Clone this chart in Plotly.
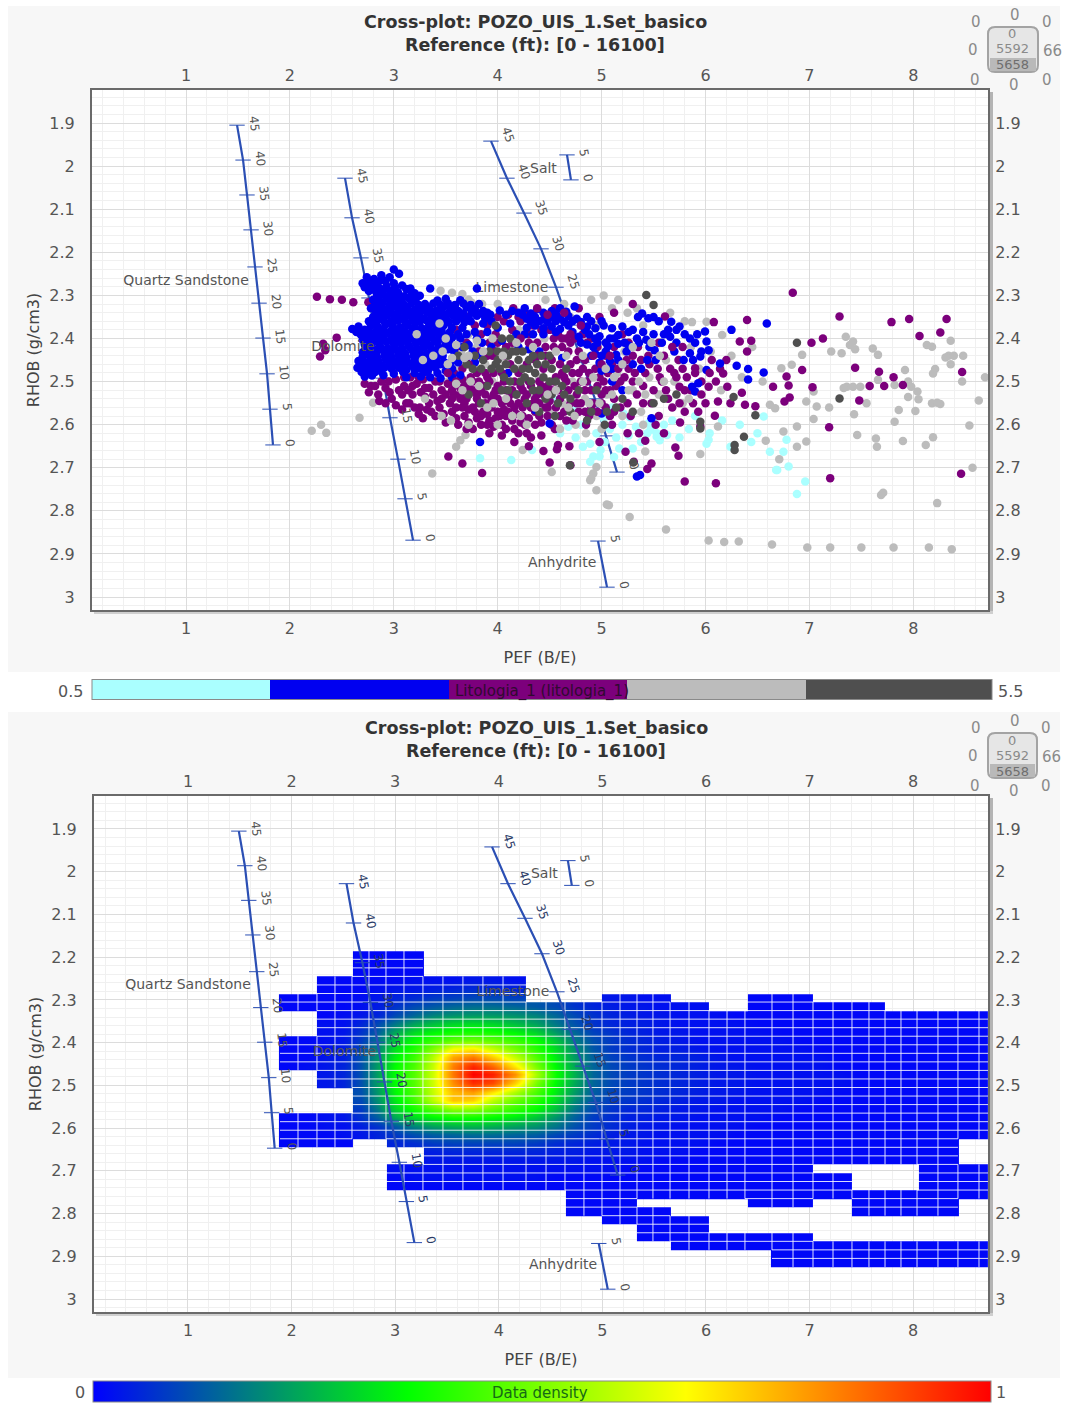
import plotly.graph_objects as go

W, H = 1065, 1404

# ---------- lithology scatter (PEF, RHOB) ----------
cyan_pts = [(6.69,2.705),(6.8,2.697),(6.96,2.732),(6.88,2.761),(6.62,2.663),(6.75,2.663),(6.78,2.635),(6.04,2.62),(6.03,2.635),(6.33,2.6),
(6.56,2.581),(5.47,2.612),(5.53,2.628),(5.45,2.597),(3.83,2.678),(4.13,2.682),(4.33,2.659),(4.92,2.674),(4.89,2.644),(4.99,2.659),
(5.21,2.574),(5.27,2.582),(4.57,2.543),(4.89,2.686),(4.98,2.674),(4.82,2.651),(5.53,2.62),(5.56,2.636),(5.63,2.624),(6.01,2.644),
(6.24,2.651),(6.68,2.705),(5.08,2.61),(5.14,2.63),(5.2,2.6),(5.26,2.625),(5.33,2.605),(5.38,2.64),(5.44,2.62),(5.5,2.59),
(5.02,2.585),(5.1,2.56),(5.17,2.655),(5.3,2.655),(5.6,2.6),(5.68,2.59),(5.75,2.63),(5.84,2.61),(5.9,2.58),(6.16,2.59),
(4.75,2.63),(4.68,2.605),(4.6,2.62),(4.8,2.6),(4.95,2.62),(5.03,2.64),(5.12,2.675),(4.72,2.56),(6.44,2.64),(6.5,2.62)]

gray_pts = [(5.62,2.843),(6.03,2.869),(6.18,2.872),(6.32,2.871),(6.64,2.878),(6.98,2.885),(7.2,2.885),(7.5,2.885),(7.81,2.885),(8.15,2.885),
(8.37,2.889),(7.69,2.763),(7.71,2.758),(8.23,2.782),(8.57,2.70),(7.35,2.396),(7.42,2.407),(7.39,2.415),(7.44,2.425),(7.61,2.423),
(7.66,2.438),(8.13,2.415),(8.18,2.419),(8.36,2.405),(8.34,2.44),(8.39,2.44),(8.31,2.444),(8.48,2.44),(8.36,2.46),(8.21,2.471),
(8.19,2.481),(7.92,2.473),(8.47,2.50),(8.69,2.49),(7.36,2.512),(7.33,2.515),(7.42,2.512),(7.49,2.512),(7.66,2.496),(7.82,2.508),
(7.95,2.50),(7.98,2.512),(8.04,2.523),(7.95,2.536),(8.05,2.541),(8.18,2.55),(8.23,2.549),(8.26,2.552),(8.63,2.544),(7.55,2.55),
(7.86,2.566),(8.02,2.568),(7.82,2.593),(7.43,2.576),(7.07,2.558),(7.19,2.56),(7.04,2.587),(7.46,2.624),(7.64,2.632),(7.65,2.651),
(7.9,2.638),(8.12,2.647),(8.19,2.629),(8.54,2.602),(6.97,2.639),(6.88,2.651),(6.75,2.616),(6.58,2.637),(6.71,2.68),(6.88,2.604),
(6.97,2.546),(7.04,2.523),(6.62,2.554),(6.67,2.562),(6.73,2.469),(6.83,2.461),(6.93,2.438),(7.21,2.43),(7.31,2.434),(5.95,2.668),
(6.12,2.604),(6.16,2.392),(5.87,2.362),(6.01,2.361),(5.42,2.662),(2.21,2.614),(2.30,2.60),(2.35,2.619),(2.67,2.584),(2.80,2.549),
(3.45,2.289),(3.56,2.294),(3.66,2.297),(3.75,2.317),(3.37,2.713),(3.64,2.636),(3.6,2.651),(3.69,2.624),(4.24,2.659),(4.52,2.71),
(4.95,2.752),(5.07,2.787),(4.92,2.713),(4.89,2.729),(5.05,2.785),(5.27,2.814),(4.95,2.698),(4.9,2.725),(3.55,2.40),(3.65,2.43),
(3.72,2.39),(3.8,2.42),(3.88,2.46),(3.6,2.47),(3.7,2.5),(3.78,2.47),(3.95,2.5),(4.05,2.45),(4.12,2.42),(4.22,2.47),
(4.3,2.53),(4.4,2.49),(4.5,2.57),(4.62,2.55),(4.72,2.5),(4.84,2.54),(4.95,2.58),(5.05,2.53),(5.15,2.48),(5.22,2.43),
(5.3,2.52),(5.38,2.57),(5.46,2.49),(5.55,2.53),(5.62,2.45),(5.7,2.5),(5.78,2.55),(5.86,2.42),(5.94,2.47),(6.05,2.43),
(6.15,2.52),(6.25,2.44),(6.35,2.49),(6.45,2.42),(6.55,2.5),(3.36,2.37),(3.44,2.44),(3.52,2.5),(4.2,2.38),(4.45,2.4),
(4.7,2.35),(4.95,2.37),(5.1,2.33),(5.25,2.34),(5.4,2.37),(4.75,2.6),(4.85,2.62),(5.0,2.61),(5.2,2.58),(5.4,2.6),
(3.72,2.31),(3.85,2.32),(4.0,2.32),(4.46,2.31),(4.64,2.32),(4.9,2.31),(5.02,2.30),(5.16,2.31),(5.34,2.33),(5.66,2.34),(5.8,2.36)]

purple_pts = [(6.84,2.294),(7.29,2.349),(7.79,2.362),(7.96,2.355),(8.32,2.355),(8.06,2.394),(8.26,2.386),(8.47,2.478),(7.13,2.4),(7.02,2.41),
(7.44,2.468),(7.67,2.477),(7.81,2.49),(7.58,2.51),(7.72,2.51),(7.9,2.508),(7.48,2.544),(7.03,2.513),(6.93,2.473),(6.81,2.537),
(6.76,2.546),(6.8,2.509),(6.78,2.488),(6.65,2.512),(6.48,2.557),(6.38,2.554),(6.35,2.526),(7.19,2.606),(7.2,2.724),(8.46,2.714),
(6.1,2.736),(5.8,2.732),(5.74,2.672),(5.71,2.653),(5.48,2.69),(5.44,2.703),(5.42,2.637),(5.755,2.595),(5.95,2.604),(6.09,2.579),
(6.4,2.357),(6.08,2.362),(6.33,2.407),(6.44,2.405),(6.4,2.43),(6.17,2.481),(6.21,2.512),(6.12,2.546),(6.03,2.512),(5.9,2.469),
(5.75,2.512),(5.75,2.55),(5.93,2.57),(5.61,2.349),(2.26,2.303),(2.385,2.309),(2.5,2.31),(2.61,2.316),(2.755,2.316),(2.45,2.398),
(2.32,2.412),(2.29,2.442),(2.34,2.427),(3.525,2.674),(3.66,2.69),(3.85,2.712),(4.5,2.688),(4.7,2.694),(4.44,2.661),(4.57,2.657),
(4.69,2.65),(5.23,2.663),(5.31,2.686),(4.58,2.647),
(2.78,2.51),(2.85,2.53),(2.92,2.515),(2.98,2.54),(3.05,2.52),(3.12,2.55),(3.18,2.53),(3.25,2.56),(3.3,2.535),(3.36,2.57),
(3.42,2.545),(3.48,2.575),(3.54,2.55),(3.6,2.585),(3.66,2.56),(3.72,2.595),(3.78,2.57),(3.84,2.6),(3.9,2.575),(3.96,2.605),
(4.02,2.58),(4.08,2.61),(4.14,2.59),(4.2,2.62),(4.26,2.6),(4.32,2.63),(2.95,2.5),(3.02,2.495),(3.1,2.51),(3.16,2.49),
(3.22,2.505),(3.28,2.495),(3.34,2.515),(3.4,2.5),(3.46,2.52),(3.52,2.505),(3.58,2.53),(3.64,2.515),(3.7,2.54),(3.76,2.52),
(3.82,2.55),(3.88,2.53),(3.94,2.56),(4.0,2.54),(4.06,2.565),(4.12,2.55),(4.18,2.575),(4.24,2.56),(4.3,2.585),(4.36,2.57),
(4.42,2.595),(4.48,2.58),(3.15,2.55),(3.24,2.575),(3.32,2.565),(3.44,2.56),(3.56,2.57),(3.68,2.58),(3.76,2.61),(3.9,2.6),
(4.04,2.625),(4.16,2.64),(4.3,2.65),(4.42,2.625),(4.55,2.61),(4.66,2.59),(4.78,2.57),(4.9,2.56),(5.0,2.55),(5.12,2.54),
(3.5,2.46),(3.58,2.48),(3.66,2.47),(3.74,2.49),(3.82,2.5),(3.9,2.49),(3.98,2.52),(4.06,2.5),(4.14,2.52),(4.22,2.51),
(4.3,2.5),(4.38,2.53),(4.46,2.52),(4.54,2.5),(4.62,2.48),(4.7,2.46),(4.78,2.48),(4.86,2.5),(4.94,2.47),(5.02,2.5),
(5.1,2.46),(5.18,2.5),(5.26,2.47),(5.34,2.53),(5.42,2.48),(5.5,2.52),(5.58,2.5),(5.66,2.47),(5.74,2.45),(5.82,2.49),
(3.9,2.37),(3.98,2.39),(4.06,2.36),(4.14,2.38),(4.22,2.36),(4.3,2.39),(4.38,2.41),(4.46,2.42),(4.54,2.4),(4.62,2.42),
(4.7,2.41),(4.78,2.43),(4.86,2.41),(4.15,2.33),(4.3,2.345),(4.55,2.33),(4.78,2.33),(4.98,2.35),(5.12,2.34),(5.3,2.32),
(3.48,2.36),(3.6,2.38),(3.7,2.35),(3.78,2.37),(3.6,2.42),(3.7,2.41),(3.82,2.43),(3.95,2.44),(5.2,2.39),(5.35,2.42),
(5.45,2.44),(5.55,2.41),(5.25,2.55),(5.4,2.55),(5.55,2.58),(5.68,2.56),(5.1,2.6),(5.25,2.62),(4.85,2.6),(4.98,2.64),
(2.72,2.505),(2.76,2.525),(2.82,2.51),(2.88,2.5),(2.86,2.545),(2.92,2.55),(2.96,2.525),(3.02,2.555),(3.08,2.53),(3.08,2.565),
(3.14,2.52),(3.2,2.56),(3.26,2.525),(3.28,2.585),(3.34,2.55),(3.4,2.58),(3.46,2.54),(3.5,2.595),(3.56,2.54),(3.62,2.6),
(3.64,2.54),(3.7,2.61),(3.72,2.565),(3.8,2.585),(3.86,2.57),(3.92,2.62),(3.98,2.585),(4.04,2.6),(4.1,2.57),(4.16,2.61),
(4.22,2.595),(4.28,2.62),(4.36,2.6),(4.4,2.55),(4.46,2.56),(4.52,2.6),(4.6,2.58),(4.7,2.55),(4.76,2.53),(4.84,2.57),
(3.1,2.49),(3.18,2.51),(3.24,2.49),(3.3,2.515),(3.38,2.53),(3.44,2.5),(3.5,2.53),(3.58,2.505),(3.66,2.495),(3.72,2.515),
(3.8,2.53),(3.86,2.51),(3.94,2.54),(4.02,2.52),(4.1,2.54),(4.18,2.53),(4.26,2.54),(4.34,2.55),(4.42,2.51),(4.5,2.545),
(4.58,2.52),(4.66,2.5),(4.74,2.51),(4.82,2.47),(4.9,2.52),(4.98,2.49),(5.06,2.48),(5.14,2.51),(5.22,2.49),(5.3,2.5),
(5.38,2.45),(5.46,2.46),(5.54,2.47),(5.62,2.52),(5.7,2.48),(5.78,2.47),(5.86,2.52),(5.96,2.5),(6.06,2.45),(6.14,2.47),
(4.0,2.35),(4.1,2.345),(4.2,2.35),(4.34,2.37),(4.42,2.38),(4.5,2.38),(4.58,2.39),(4.66,2.4),(4.74,2.4),(4.82,2.39),
(4.9,2.4),(4.96,2.42),(5.04,2.44),(5.12,2.42),(5.3,2.44),(5.26,2.41),(3.84,2.39),(3.92,2.41),(4.0,2.41),(4.08,2.42),
(5.52,2.6),(5.6,2.62),(5.8,2.57),(6.0,2.55),(6.2,2.45),(6.24,2.55),(5.36,2.62),(5.28,2.58),(5.18,2.56),(5.08,2.58)]

blue_pts = [(3.0,2.24),(3.05,2.25),(2.88,2.253),(2.7,2.272),(2.76,2.268),(2.84,2.274),(2.92,2.266),(3.0,2.272),
(2.76,2.29),(2.83,2.292),(2.9,2.287),(2.97,2.29),(3.04,2.293),(3.12,2.285),(3.2,2.295),(3.35,2.284),(3.8,2.284),
(2.8,2.31),(2.86,2.312),(2.93,2.307),(3.0,2.31),(3.07,2.313),(3.14,2.306),(3.21,2.31),(3.42,2.312),(3.5,2.308),(3.64,2.311),
(2.78,2.33),(2.85,2.328),(2.92,2.333),(2.99,2.327),(3.06,2.331),(3.13,2.33),(3.2,2.334),(3.27,2.328),(3.34,2.33),(3.41,2.335),(3.48,2.327),(3.55,2.33),(3.62,2.336),(3.7,2.328),(3.78,2.332),(3.86,2.336),(4.14,2.336),(4.26,2.33),(4.38,2.332),(4.52,2.336),(4.6,2.33),(4.74,2.326),
(2.8,2.35),(2.87,2.352),(2.94,2.346),(3.01,2.35),(3.08,2.353),(3.15,2.347),(3.22,2.35),(3.29,2.354),(3.36,2.347),(3.43,2.35),(3.5,2.352),(3.57,2.346),(3.64,2.351),(3.72,2.353),(3.8,2.347),(3.88,2.353),(4.28,2.354),(4.36,2.35),(4.44,2.356),(4.52,2.35),(4.6,2.353),(4.68,2.348),(4.76,2.354),(4.86,2.35),
(2.6,2.378),(2.66,2.372),(2.72,2.38),(2.78,2.37),(2.85,2.374),(2.92,2.368),(2.99,2.371),(3.06,2.375),(3.13,2.369),(3.2,2.372),(3.27,2.376),(3.34,2.37),(3.41,2.373),(3.48,2.369),(3.56,2.375),(4.28,2.375),(4.36,2.37),(4.44,2.376),(4.52,2.372),(4.6,2.378),(4.68,2.37),(4.86,2.372),(4.94,2.376),(5.02,2.37),(5.1,2.376),(5.2,2.372),
(2.68,2.39),(2.74,2.392),(2.8,2.39),(2.87,2.394),(2.94,2.388),(3.01,2.392),(3.08,2.39),(3.15,2.395),(3.22,2.389),(3.29,2.392),(3.36,2.395),(3.43,2.39),(3.5,2.393),(3.56,2.398),(4.78,2.396),(4.88,2.39),(4.98,2.395),(5.08,2.4),(5.16,2.392),(5.26,2.385),
(2.72,2.414),(2.79,2.41),(2.86,2.413),(2.93,2.408),(3.0,2.412),(3.07,2.41),(3.14,2.415),(3.21,2.409),(3.28,2.412),(3.35,2.416),(3.42,2.41),(3.5,2.414),(4.86,2.414),(4.96,2.41),(5.06,2.418),(5.16,2.412),(5.26,2.416),(5.36,2.41),
(2.7,2.432),(2.76,2.43),(2.83,2.434),(2.9,2.428),(2.97,2.432),(3.04,2.43),(3.11,2.435),(3.18,2.428),(3.25,2.432),(3.32,2.436),(3.39,2.43),(3.46,2.434),(4.94,2.436),(5.04,2.43),(5.14,2.438),(5.24,2.43),
(2.66,2.452),(2.72,2.455),(2.78,2.45),(2.85,2.453),(2.92,2.448),(2.99,2.452),(3.06,2.45),(3.13,2.455),(3.2,2.448),(3.27,2.452),(3.34,2.456),(3.41,2.45),(3.48,2.454),(4.98,2.456),(5.08,2.452),(5.2,2.46),
(2.65,2.468),(2.71,2.472),(2.77,2.468),(2.84,2.471),(2.91,2.467),(2.98,2.47),(3.05,2.468),(3.12,2.473),(3.19,2.467),(3.26,2.47),(3.33,2.474),(3.4,2.468),(3.5,2.475),(5.0,2.475),(5.1,2.47),
(2.72,2.488),(2.79,2.486),(2.9,2.485),(3.12,2.49),(3.26,2.488),(3.35,2.49),(3.45,2.492),(3.56,2.49),
(5.0,2.574),(4.36,2.566),(4.5,2.597),(3.83,2.64),(5.34,2.72),(5.37,2.717),(5.48,2.585),
(6.59,2.365),(6.25,2.38),(6.56,2.479),(6.41,2.471),(6.41,2.495),(6.3,2.463),(6.14,2.458),(6.01,2.473),(6.01,2.407),(6.03,2.427),
(5.995,2.384),(5.95,2.442),(5.85,2.434),(5.79,2.45),(5.75,2.372),(5.67,2.361),(5.64,2.38),(5.66,2.396),(5.51,2.427),(5.43,2.403),
(5.45,2.353),(5.39,2.342),(5.87,2.512),(5.93,2.504),(5.9,2.523),(5.5,2.39),(5.58,2.41),(5.72,2.41),(5.8,2.39),(5.9,2.41),(5.96,2.43),(5.55,2.36),(5.4,2.385),
(2.74,2.258),(2.81,2.262),(2.88,2.264),(2.96,2.258),(2.72,2.281),(2.79,2.279),(2.86,2.283),(2.93,2.278),(3.01,2.282),(3.08,2.277),(3.16,2.284),
(2.84,2.3),(2.9,2.298),(2.96,2.301),(3.03,2.299),(3.1,2.302),(3.17,2.298),(3.25,2.301),(3.3,2.32),(2.82,2.32),(2.89,2.318),(2.96,2.321),(3.03,2.319),(3.1,2.322),(3.17,2.318),(3.24,2.322),(3.38,2.319),(3.45,2.322),(3.52,2.318),(3.59,2.322),(3.67,2.319),(3.74,2.322),(3.82,2.32),
(2.83,2.34),(2.9,2.338),(2.97,2.341),(3.04,2.339),(3.11,2.342),(3.18,2.338),(3.25,2.341),(3.32,2.339),(3.39,2.342),(3.46,2.339),(3.53,2.341),(3.6,2.338),(3.67,2.342),(3.75,2.34),(3.84,2.342),(3.93,2.345),(4.2,2.34),(4.32,2.342),(4.44,2.34),(4.56,2.342),(4.66,2.338),
(2.76,2.36),(2.83,2.362),(2.9,2.358),(2.97,2.361),(3.04,2.359),(3.11,2.362),(3.18,2.358),(3.25,2.361),(3.32,2.359),(3.39,2.362),(3.46,2.36),(3.53,2.362),(3.6,2.358),(3.68,2.362),(4.32,2.362),(4.4,2.36),(4.48,2.362),(4.56,2.36),(4.64,2.362),(4.72,2.36),(4.8,2.362),(4.9,2.36),(5.0,2.36),
(2.64,2.385),(2.7,2.386),(2.76,2.382),(2.83,2.384),(2.9,2.381),(2.97,2.383),(3.04,2.38),(3.11,2.385),(3.18,2.38),(3.25,2.384),(3.32,2.382),(3.39,2.384),(3.46,2.382),(3.54,2.385),(3.62,2.39),
(2.7,2.403),(2.76,2.402),(2.83,2.404),(2.9,2.399),(2.97,2.403),(3.04,2.4),(3.11,2.404),(3.18,2.4),(3.25,2.403),(3.32,2.402),(3.39,2.404),(3.46,2.4),(3.53,2.404),
(2.73,2.422),(2.8,2.424),(2.87,2.42),(2.94,2.423),(3.01,2.42),(3.08,2.424),(3.15,2.42),(3.22,2.423),(3.29,2.421),(3.36,2.424),(3.43,2.42),(3.52,2.425),(3.6,2.44),
(2.7,2.443),(2.77,2.441),(2.84,2.444),(2.91,2.44),(2.98,2.443),(3.05,2.44),(3.12,2.444),(3.19,2.44),(3.26,2.443),(3.33,2.441),(3.4,2.444),(3.47,2.44),(3.55,2.455),
(2.68,2.46),(2.75,2.462),(2.82,2.46),(2.89,2.463),(2.96,2.46),(3.03,2.46),(3.1,2.463),(3.17,2.46),(3.24,2.462),(3.31,2.46),(3.38,2.463),(3.45,2.46),
(2.69,2.478),(2.75,2.48),(2.82,2.478),(2.88,2.476),(3.0,2.482),(3.09,2.478),(3.2,2.48),(3.3,2.478),(3.42,2.48),
(5.3,2.38),(5.34,2.4),(5.46,2.42),(5.22,2.41),(5.12,2.4),(5.04,2.41),(4.94,2.4),(4.84,2.38),(5.35,2.35),(5.5,2.35),(5.6,2.39),(5.72,2.38),(5.85,2.4),(5.92,2.39),(5.88,2.45),(5.7,2.43),(5.52,2.45),(5.38,2.47),(4.9,2.44)]

blue_mid_pts = [(3.6,2.36),(3.66,2.375),(3.74,2.36),(3.7,2.39),(3.78,2.385),(3.86,2.365),(3.64,2.4),(3.72,2.415),(3.8,2.4),(3.9,2.385),
(3.58,2.43),(3.66,2.42),(3.76,2.43),(3.85,2.41),(3.94,2.36),(4.0,2.375),(4.08,2.345),(4.12,2.365),(4.18,2.39),(3.62,2.455),
(3.7,2.445),(3.78,2.455),(3.56,2.47),(3.9,2.34),(4.02,2.335),(4.24,2.345),(4.26,2.39),(4.34,2.39),(4.44,2.39),(4.56,2.385),
(3.54,2.415),(3.84,2.44),(3.94,2.42),(4.04,2.405),(4.2,2.42),(4.3,2.425),(4.1,2.48),(3.64,2.485),(4.4,2.43),(4.62,2.445),
(4.8,2.41),(4.72,2.385),(4.92,2.42),(5.0,2.44),(5.06,2.47),(5.16,2.45),(5.3,2.46),(5.44,2.45),(5.1,2.5),(5.2,2.52)]

purple_top_pts = [(3.52,2.48),(3.6,2.5),(3.68,2.51),(3.76,2.5),(3.84,2.52),(3.92,2.5),(4.0,2.51),(4.08,2.52),(4.16,2.5),(4.24,2.52),
(4.32,2.51),(4.4,2.5),(4.48,2.51),(4.56,2.49),(4.64,2.49),(4.72,2.48),(4.8,2.5),(4.88,2.48),(4.96,2.51),(5.04,2.52),
(3.56,2.52),(3.64,2.53),(3.72,2.53),(3.8,2.54),(3.88,2.55),(3.96,2.53),(4.04,2.55),(4.12,2.53),(4.2,2.55),(4.28,2.53),
(4.36,2.54),(4.44,2.53),(4.52,2.52),(4.6,2.54),(4.68,2.52),(4.76,2.55),(4.84,2.52),(4.92,2.55),(5.0,2.53),(5.08,2.52),
(3.6,2.56),(3.68,2.55),(3.76,2.56),(3.84,2.58),(3.92,2.59),(4.0,2.57),(4.08,2.58),(4.16,2.56),(4.24,2.58),(4.32,2.56),
(4.4,2.58),(4.48,2.56),(4.56,2.56),(4.64,2.57),(4.72,2.59),(4.8,2.55),(4.88,2.58),(4.96,2.57),(5.04,2.56),(5.12,2.57),
(3.72,2.46),(3.8,2.48),(3.88,2.48),(3.96,2.48),(4.04,2.48),(4.12,2.46),(4.2,2.48),(4.28,2.46),(4.36,2.45),(4.44,2.47),
(4.52,2.45),(4.6,2.46),(4.68,2.43),(4.76,2.45),(4.84,2.45),(4.92,2.44),(5.0,2.46),(5.08,2.44),(5.16,2.47),(5.24,2.45),
(3.9,2.44),(3.98,2.43),(4.06,2.44),(4.14,2.41),(4.22,2.4),(4.3,2.41),(4.38,2.44),(4.46,2.44),(4.54,2.42),(4.62,2.4),
(4.7,2.39),(4.8,2.37),(4.64,2.34),(4.48,2.345),(4.38,2.33),(5.32,2.48),(5.4,2.51),(5.48,2.55),(5.56,2.49),(5.64,2.54),
(5.72,2.49),(5.8,2.52),(5.88,2.55),(5.96,2.53),(6.04,2.48),(5.6,2.44),(5.68,2.42),(5.78,2.42),(5.9,2.48),(6.1,2.5)]

dark_pts = [(4.695,2.694),(5.305,2.688),(5.95,2.593),(5.95,2.609),(6.37,2.628),(6.28,2.647),(6.28,2.659),(6.48,2.578),(6.88,2.41),(7.29,2.539),
(5.43,2.299),(5.5,2.322),(6.27,2.536),(3.62,2.44),(3.7,2.46),(3.78,2.44),(3.84,2.47),(3.92,2.43),(3.98,2.46),(4.04,2.4),
(4.1,2.44),(4.16,2.47),(4.06,2.49),(3.9,2.51),(4.24,2.43),(4.3,2.45),(4.36,2.48),(4.42,2.44),(4.26,2.49),(4.18,2.53),
(4.34,2.52),(4.46,2.54),(4.52,2.47),(4.58,2.55),(4.64,2.53),(4.7,2.57),(4.78,2.52),(4.5,2.44),(3.72,2.53),(3.84,2.55),
(4.0,2.43),(4.12,2.4),(4.02,2.47),(4.95,2.52),(5.05,2.57),(5.2,2.54),(5.3,2.57),(3.98,2.37),(4.55,2.58),(5.5,2.55),
(5.6,2.54),(5.72,2.53),(5.03,2.6),(4.86,2.59),(3.68,2.42),(3.76,2.47),(3.86,2.45),(3.94,2.47),(4.08,2.46),(4.14,2.43),
(4.2,2.45),(4.3,2.47),(4.38,2.46),(4.44,2.49),(4.5,2.5),(4.22,2.5),(4.12,2.5),(4.04,2.52),(4.4,2.52),(4.52,2.53),
(4.62,2.51),(4.7,2.54),(4.28,2.55),(4.4,2.57),(4.9,2.57),(5.14,2.56),(4.0,2.45),(4.06,2.43),(4.18,2.43),(4.24,2.47),
(4.34,2.44),(4.46,2.46),(4.1,2.52),(4.32,2.5),(4.56,2.5),(4.66,2.47)]

gray_top_pts = [(3.44,2.365),(3.5,2.40),(3.47,2.43),(3.56,2.445),(3.6,2.415),(3.68,2.445),(3.72,2.44),(3.8,2.405),(3.86,2.43),(3.95,2.4),
(4.05,2.44),(3.74,2.5),(3.6,2.505),(3.52,2.46),(4.18,2.41),(4.34,2.42),(4.56,2.43),(4.66,2.44),(4.82,2.44),(4.92,2.49),
(3.3,2.54),(3.55,2.59),(3.9,2.56),(4.22,2.58),(4.48,2.53),(4.74,2.58),(5.04,2.47),(5.2,2.46),(5.36,2.5),(5.48,2.41),
(5.6,2.5),(5.84,2.54),(3.22,2.39),(3.28,2.45),(3.38,2.44),(3.66,2.52),(3.82,2.51),(3.96,2.55),(4.08,2.54),(4.14,2.58),
(4.36,2.56),(4.56,2.52),(4.68,2.56),(4.82,2.5),(4.98,2.55),(5.1,2.53),(5.26,2.52),(5.42,2.53),(3.46,2.58),(3.72,2.6),
(4.0,2.6),(4.28,2.6),(4.6,2.61),(4.88,2.55),(5.12,2.49),(5.3,2.42),(5.56,2.44)]

lith_code = [1, 2, 3, 4, 5]
lith_colors = ["#aaffff", "#0000f0", "#7c007c", "#bcbcbc", "#4f4f4f"]
# drawing order, back to front
groups = [(cyan_pts, 1), (gray_pts, 4), (purple_pts, 3), (blue_pts, 2), (blue_mid_pts, 2), (purple_top_pts, 3),
          (dark_pts, 5), (gray_top_pts, 4)]
scatter_x = [p[0] for g, _c in groups for p in g]
scatter_y = [p[1] for g, _c in groups for p in g]
scatter_c = [_c for g, _c in groups for _p in g]

# ---------- mineral lines ----------
quartz_pef = [1.491,1.549,1.587,1.626,1.664,1.703,1.741,1.78,1.808,1.837]
quartz_rhob = [1.905,1.986,2.067,2.148,2.234,2.318,2.399,2.482,2.564,2.647]
dolomite_pef = [2.53,2.598,2.684,2.761,2.829,2.896,2.963,3.04,3.108,3.185]
dolomite_rhob = [2.028,2.12,2.213,2.306,2.399,2.492,2.584,2.68,2.772,2.868]
limestone_pef = [3.935,4.089,4.253,4.417,4.561,4.686,4.811,4.936,5.042,5.148]
limestone_rhob = [1.942,2.028,2.109,2.192,2.281,2.369,2.455,2.54,2.626,2.71]
porosity = [45,40,35,30,25,20,15,10,5,0]
salt_pef = [4.667,4.705]
salt_rhob = [1.974,2.032]
anhydrite_pef = [4.965,5.052]
anhydrite_rhob = [2.87,2.977]
short_porosity = [5,0]
mineral_names = ["Quartz Sandstone","Limestone","Salt","Anhydrite"]
mineral_name_pef = [1.0,4.137,4.44,4.62]
mineral_name_rhob = [2.267,2.283,2.007,2.921]
dolomite_name, dolomite_name_pef, dolomite_name_rhob = ["Dolomite"], [2.51], [2.422]

# ---------- density grid: edges of the cells and the value read in each cell ----------
density_pef_edges = [1.888,2.062,2.245,2.419,2.583,2.747,2.911,3.085,3.268,3.461,3.654,3.847,4.041,4.263,4.456,4.639,4.822,4.996,5.170,5.334,5.488,5.653,5.836,6.029,6.203,6.376,6.637,6.840,7.033,7.226,7.409,7.573,7.728,7.882,8.037,8.239,8.432,8.635,8.838]
density_rhob_edges = [2.185,2.205,2.225,2.245,2.265,2.285,2.305,2.325,2.345,2.365,2.385,2.405,2.425,2.445,2.465,2.485,2.505,2.525,2.545,2.565,2.585,2.605,2.625,2.645,2.665,2.685,2.705,2.725,2.745,2.765,2.785,2.805,2.825,2.845,2.865,2.885,2.905,2.925]
_ = None
density_pct = [
 [_,_,_,_,1,1,1,1]+[_]*30,
 [_,_,_,_,1,1,1,1]+[_]*30,
 [_,_,_,_,1,1,1,1]+[_]*30,
 [_,_,1,1,1,1,1,2,2,2,3,3,2]+[_]*25,
 [_,_,1,1,1,2,3,3,4,5,6,6,5]+[_]*25,
 [1,1,1,1,2,3,5,6,8,9,10,10,9]+[_]*4+[3,3,2,2]+[_]*4+[1,1,1]+[_]*10,
 [1,1,1,1,2,4,7,10,12,14,15,15,14,12,10,7,5,4,3,3,2,2,2,_,_,1,1,1,1,1,1,1]+[_]*6,
 [_,_,1,2,3,5,10,14,18,20,21,21,20,18,14,10,7,5,4,3,3,2,2,2,1,1,1,1,1,1,1,1,1,1,1,1,1,1],
 [_,_,2,2,5,10,16,22,26,29,30,29,26,22,16,11,7,5,4,4,3,2,2,2,2,1,1,1,1,1,1,1,1,1,1,1,1,1],
 [_,_,2,3,7,13,23,30,34,37,38,37,34,29,21,14,9,7,5,4,3,3,2,2,2,2,1,1,1,1,1,1,1,1,1,1,1,1],
 [1,1,2,3,8,16,27,35,41,46,48,46,42,36,27,17,11,8,6,5,4,3,2,2,2,2,2,1,1,1,1,1,1,1,1,1,1,1],
 [1,1,2,4,10,19,31,39,51,66,69,60,50,40,30,20,12,8,6,5,4,4,3,2,2,2,2,2,1,1,1,1,1,1,1,1,1,1],
 [1,1,3,4,11,21,33,42,57,78,84,73,59,45,32,21,13,9,7,6,5,5,4,3,2,2,2,2,2,1,1,1,1,1,1,1,1,1],
 [1,2,3,5,11,22,35,44,59,83,95,86,69,50,34,23,14,10,8,7,6,5,4,3,3,2,2,2,2,1,1,1,1,1,1,1,1,1],
 [_,_,3,5,11,22,35,45,60,84,100,96,81,56,36,24,14,10,8,7,6,5,4,3,3,2,2,2,2,2,1,1,1,1,1,1,1,1],
 [_,_,3,5,11,22,35,45,60,81,94,90,72,50,34,23,14,10,8,7,6,5,4,3,3,2,2,2,2,2,1,1,1,1,1,1,1,1],
 [_,_,_,_,11,21,34,44,59,75,79,69,56,44,32,21,13,9,8,7,6,5,4,3,3,2,2,2,2,1,1,1,1,1,1,1,1,1],
 [_,_,_,_,10,20,32,43,58,74,72,58,48,40,30,19,12,8,7,6,5,4,3,3,2,2,2,2,1,1,1,1,1,1,1,1,1,1],
 [_,_,_,_,8,17,29,37,45,52,52,47,41,35,26,16,10,7,5,5,4,3,3,2,2,2,2,1,1,1,1,1,1,1,1,1,1,1],
 [1,1,2,3,7,13,23,30,34,37,37,35,32,27,20,13,8,6,4,4,3,3,2,2,2,2,1,1,1,1,1,1,1,1,1,1,1,1],
 [1,1,2,2,4,7,12,18,22,24,25,24,22,20,16,11,8,6,4,3,3,2,2,2,2,1,1,1,1,1,1,1,1,1,1,1,1,1],
 [1,1,1,2,3,5,8,11,13,14,15,15,14,13,10,8,6,4,3,3,2,2,2,2,1,1,1,1,1,1,1,1,1,1,1,1,1,1],
 [1,1,1,1,_,_,5,6,8,9,9,9,9,8,6,5,4,3,3,2,2,2,2,1,1,1,1,1,1,1,1,1,1,1,1,1,_,_],
 [_,_,_,_,_,_,_,_,4,5,5,5,5,5,4,4,3,3,3,2,2,2,1,1,1,1,1,1,1,1,1,1,1,1,1,1,_,_],
 [_,_,_,_,_,_,_,_,3,3,3,3,3,3,3,3,2,2,2,2,1,1,1,1,1,1,1,1,1,1,1,1,1,1,1,1,_,_],
 [_,_,_,_,_,_,2,2,2,2,2,2,2,2,2,2,2,2,1,1,1,1,1,1,1,1,1,1,_,_,_,_,_,_,1,1,1,1],
 [_,_,_,_,_,_,1,2,2,2,2,2,2,2,1,1,1,1,1,1,1,1,1,1,1,1,1,1,1,1,_,_,_,_,1,1,1,1],
 [_,_,_,_,_,_,1,1,1,1,1,1,1,1,1,1,1,1,1,1,1,1,1,1,1,1,1,1,1,1,_,_,_,_,1,1,1,1],
 [_,_,_,_,_,_,_,_,_,_,_,_,_,_,_,1,1,1,1,1,1,1,1,1,1,1,1,1,1,1,1,1,1,1,1,1,1,1],
 [_,_,_,_,_,_,_,_,_,_,_,_,_,_,_,1,1,1,1,_,_,_,_,_,_,1,1,1,_,_,1,1,1,1,1,1,_,_],
 [_,_,_,_,_,_,_,_,_,_,_,_,_,_,_,1,1,1,1,1,1,_,_,_,_,_,_,_,_,_,1,1,1,1,1,1,_,_],
 [_,_,_,_,_,_,_,_,_,_,_,_,_,_,_,_,_,1,1,1,1,1,1]+[_]*15,
 [_,_,_,_,_,_,_,_,_,_,_,_,_,_,_,_,_,_,_,1,1,1,1]+[_]*15,
 [_,_,_,_,_,_,_,_,_,_,_,_,_,_,_,_,_,_,_,1,1,1,1,1,1,1,1,1]+[_]*10,
 [_,_,_,_,_,_,_,_,_,_,_,_,_,_,_,_,_,_,_,_,_,1,1,1,1,1,1,1,1,1,1,1,1,1,1,1,1,1],
 [_,_,_,_,_,_,_,_,_,_,_,_,_,_,_,_,_,_,_,_,_,_,_,_,_,_,1,1,1,1,1,1,1,1,1,1,1,1],
 [_,_,_,_,_,_,_,_,_,_,_,_,_,_,_,_,_,_,_,_,_,_,_,_,_,_,1,1,1,1,1,1,1,1,1,1,1,1],
]
assert all(len(r) == 38 for r in density_pct), [len(r) for r in density_pct]
assert len(density_pct) == 37
NC, NR = 38, 37
# cell centres, with an empty row and column around the grid so the smoothed outline stays sharp
centres_x = [(density_pef_edges[i] + density_pef_edges[i + 1]) / 2 for i in range(NC)]
centres_y = [(density_rhob_edges[j] + density_rhob_edges[j + 1]) / 2 for j in range(NR)]
heat_x = [centres_x[0] - 0.2] + centres_x + [centres_x[-1] + 0.2]
heat_y = [centres_y[0] - 0.02] + centres_y + [centres_y[-1] + 0.02]
density = [[None] * (NC + 2)] + [[None] + [None if v is None else v / 100 for v in r] + [None] for r in density_pct] + [[None] * (NC + 2)]

# white cell grid, only between cells that are both filled
grid_x, grid_y = [], []
for i in range(1, NC):
    for j in range(NR):
        if density_pct[j][i] is not None and density_pct[j][i - 1] is not None:
            grid_x += [density_pef_edges[i], density_pef_edges[i], None]
            grid_y += [density_rhob_edges[j], density_rhob_edges[j + 1], None]
for j in range(1, NR):
    for i in range(NC):
        if density_pct[j][i] is not None and density_pct[j - 1][i] is not None:
            grid_x += [density_pef_edges[i], density_pef_edges[i + 1], None]
            grid_y += [density_rhob_edges[j], density_rhob_edges[j], None]

LINE_COL = "#2b4fb4"
DIM = "#555555"

def X(px): return px / W
def Y(py): return 1 - py / H

fig = go.Figure()

def add_names(names, xs, ys, xa, ya):
    fig.add_trace(go.Scatter(x=xs, y=ys, xaxis=xa, yaxis=ya, mode="text",
                             text=names, textposition="middle center",
                             textfont=dict(family="DejaVu Sans", size=14, color=DIM),
                             hoverinfo="skip", showlegend=False))

def add_minerals(xa, ya):
    for xs, ys in [(quartz_pef, quartz_rhob), (dolomite_pef, dolomite_rhob), (limestone_pef, limestone_rhob),
                   (salt_pef, salt_rhob), (anhydrite_pef, anhydrite_rhob)]:
        fig.add_trace(go.Scatter(x=xs, y=ys, xaxis=xa, yaxis=ya, mode="lines+markers",
                                 line=dict(color=LINE_COL, width=2.2),
                                 marker=dict(symbol="line-ew", size=11, line=dict(color=LINE_COL, width=1)),
                                 hoverinfo="skip", showlegend=False))
    add_names(mineral_names, mineral_name_pef, mineral_name_rhob, xa, ya)

# upper panel
add_minerals("x", "y")
stops = [0, 0.198, 0.397, 0.594, 0.793, 1]
colorscale = []
for k, c in enumerate(lith_colors):
    colorscale += [[stops[k], c], [stops[k + 1], c]]
fig.add_trace(go.Scatter(
    x=scatter_x, y=scatter_y, xaxis="x", yaxis="y", mode="markers", showlegend=False,
    marker=dict(size=8.5, color=scatter_c, cmin=0.5, cmax=5.5, colorscale=colorscale,
                colorbar=dict(orientation="h", lenmode="pixels", len=900, thicknessmode="pixels", thickness=20,
                              x=X(542), xanchor="center", y=Y(690), yanchor="middle", xpad=0, ypad=0,
                              outlinecolor="#8a8a8a", outlinewidth=1, ticks="", showticklabels=False))))
add_names(dolomite_name, dolomite_name_pef, dolomite_name_rhob, "x", "y")

# lower panel
fig.add_trace(go.Heatmap(
    x=heat_x, y=heat_y, z=density, xaxis="x2", yaxis="y2", zmin=0, zmax=1, zsmooth="best",
    hoverongaps=False,
    colorscale=[[0, "#0000ff"], [0.35, "#00ff00"], [0.66, "#ffff00"], [1, "#ff0000"]],
    colorbar=dict(orientation="h", lenmode="pixels", len=898, thicknessmode="pixels", thickness=21,
                  x=X(542), xanchor="center", y=Y(1392), yanchor="middle", xpad=0, ypad=0,
                  outlinecolor="#8a8a8a", outlinewidth=1, ticks="", showticklabels=False)))
fig.add_trace(go.Scatter(x=grid_x, y=grid_y, xaxis="x2", yaxis="y2", mode="lines",
                         line=dict(color="rgba(255,255,255,0.85)", width=1), hoverinfo="skip", showlegend=False))
add_minerals("x2", "y2")
add_names(dolomite_name, dolomite_name_pef, dolomite_name_rhob, "x2", "y2")

# invisible carriers for the mirrored (top / right) axes
for xa, ya in [("x3", "y3"), ("x4", "y4")]:
    fig.add_trace(go.Scatter(x=[1], y=[2], xaxis=xa, yaxis=ya, mode="markers", opacity=0,
                             hoverinfo="skip", showlegend=False))

tick_font = dict(family="DejaVu Sans", size=16, color="#555555")
title_font = dict(family="DejaVu Sans", size=16, color="#444444")
GRID = "#dcdcdc"
MINOR = "#f0f0f0"
FRAME = "#6a6a6a"

def xax(rng, dom, anchor, title=None):
    return dict(range=rng, domain=dom, anchor=anchor, tickmode="linear", tick0=1, dtick=1, tickfont=tick_font,
                showgrid=True, gridcolor=GRID, gridwidth=1, zeroline=False,
                minor=dict(dtick=0.2, tick0=1, showgrid=True, gridcolor=MINOR, gridwidth=1),
                showline=True, linecolor=FRAME, linewidth=2, mirror=True,
                ticks="outside", ticklen=3, tickcolor="rgba(0,0,0,0)",
                title=dict(text="PEF (B/E)", font=title_font, standoff=15))

def yax(rng, dom, anchor):
    return dict(range=rng, domain=dom, anchor=anchor, tickmode="linear", tick0=1.9, dtick=0.1, tickfont=tick_font,
                showgrid=True, gridcolor=GRID, gridwidth=1, zeroline=False,
                minor=dict(dtick=0.02, tick0=1.9, showgrid=True, gridcolor=MINOR, gridwidth=1),
                showline=True, linecolor=FRAME, linewidth=2, mirror=True,
                ticks="outside", ticklen=12, tickcolor="rgba(0,0,0,0)",
                title=dict(text="RHOB (g/cm3)", font=title_font, standoff=6))

x1r, y1r = [0.095, 8.719], [3.030, 1.8234]
x2r, y2r = [0.093, 8.722], [3.0304, 1.8228]
d1x, d1y = [X(92), X(988)], [Y(610), Y(90)]
d2x, d2y = [X(94), X(988)], [Y(1312), Y(796)]

def top_ax(rng, over, anchor):
    return dict(range=rng, overlaying=over, anchor=anchor, side="top", tickmode="linear", tick0=1, dtick=1,
                tickfont=tick_font, showgrid=False, zeroline=False, ticks="outside", ticklen=2,
                tickcolor="rgba(0,0,0,0)")

def right_ax(rng, over, anchor):
    return dict(range=rng, overlaying=over, anchor=anchor, side="right", tickmode="linear", tick0=1.9, dtick=0.1,
                tickfont=tick_font, showgrid=False, zeroline=False, ticks="outside", ticklen=3,
                tickcolor="rgba(0,0,0,0)")

annotations = []

def note(px, py, text, size=14, color="#8a8a8a", bold=False, family="DejaVu Sans"):
    annotations.append(dict(xref="paper", yref="paper", x=X(px), y=Y(py), text=f"<b>{text}</b>" if bold else text,
                            showarrow=False, xanchor="center", yanchor="middle",
                            font=dict(family=family, size=size, color=color)))

def porosity_labels(xa, ya, xs, ys, values, skip, color, angle, yshift=2):
    for x_, y_, v in zip(xs, ys, values):
        if v in skip:
            continue
        annotations.append(dict(xref=xa, yref=ya, x=x_, y=y_, text=str(v), showarrow=False, xshift=17, yshift=yshift,
                                textangle=angle, font=dict(family="DejaVu Sans", size=12, color=color)))

# upper panel: the labels that the dots cover are not readable in the reference
porosity_labels("x", "y", quartz_pef, quartz_rhob, porosity, [], DIM, 84)
porosity_labels("x", "y", dolomite_pef, dolomite_rhob, porosity, [30, 25, 20], DIM, 80)
porosity_labels("x", "y", limestone_pef, limestone_rhob, porosity, [20, 15, 10, 5], DIM, 72, 6)
porosity_labels("x", "y", salt_pef, salt_rhob, short_porosity, [], DIM, 80)
porosity_labels("x", "y", anhydrite_pef, anhydrite_rhob, short_porosity, [], DIM, 80)
porosity_labels("x2", "y2", quartz_pef, quartz_rhob, porosity, [], DIM, 84)
porosity_labels("x2", "y2", dolomite_pef, dolomite_rhob, porosity, [], "#2a3a66", 80)
porosity_labels("x2", "y2", limestone_pef, limestone_rhob, porosity, [], "#2a3a66", 72, 6)
porosity_labels("x2", "y2", salt_pef, salt_rhob, short_porosity, [], DIM, 80)
porosity_labels("x2", "y2", anhydrite_pef, anhydrite_rhob, short_porosity, [], DIM, 80)

for dy, dx in [(0, 0), (706, 1)]:
    note(535 + dx, 22 + dy, "Cross-plot: POZO_UIS_1.Set_basico", size=17.5, color="#333333", bold=True)
    note(535 + dx, 45 + dy, "Reference (ft): [0 - 16100]", size=17.5, color="#333333", bold=True)
    for px, py, t in [(976,22,"0"),(1015,15,"0"),(1047,22,"0"),(973,50,"0"),(1052,51,"66"),(975,80,"0"),(1014,85,"0"),(1047,80,"0")]:
        note(px - (dx if px > 1040 else 0), py + dy, t, size=15)
    note(1012, 34 + dy, "0", size=13)
    note(1012, 49 + dy, "5592", size=13)
    note(1012, 65 + dy, "5658", size=13, color="#6e6e6e")

note(70, 691, "0.5", size=16, color="#555555")
note(1010, 691, "5.5", size=16, color="#555555")
note(80, 1392, "0", size=16, color="#555555")
note(1001, 1392, "1", size=16, color="#555555")
note(542, 691, "Litologia_1 (litologia_1)", size=15, color="#300a30")
note(540, 1393, "Data density", size=15, color="#156a15")

def rounded(x0, y0, x1, y1, r=7):
    return (f"M {X(x0+r)} {Y(y0)} L {X(x1-r)} {Y(y0)} Q {X(x1)} {Y(y0)} {X(x1)} {Y(y0+r)} "
            f"L {X(x1)} {Y(y1-r)} Q {X(x1)} {Y(y1)} {X(x1-r)} {Y(y1)} "
            f"L {X(x0+r)} {Y(y1)} Q {X(x0)} {Y(y1)} {X(x0)} {Y(y1-r)} "
            f"L {X(x0)} {Y(y0+r)} Q {X(x0)} {Y(y0)} {X(x0+r)} {Y(y0)} Z")

shapes = []
def rect(x0, y0, x1, y1, fill, layer="below"):
    shapes.append(dict(type="rect", xref="paper", yref="paper", x0=X(x0), y0=Y(y0), x1=X(x1), y1=Y(y1),
                       fillcolor=fill, line=dict(width=0), layer=layer))

rect(8, 6, 1060, 672, "#f7f7f7")
rect(8, 712, 1060, 1378, "#f7f7f7")
# plot areas stay white above the grey panels
rect(92, 90, 988, 610, "#ffffff")
rect(94, 796, 988, 1312, "#ffffff")
# frame drop shadows
rect(989, 92, 993, 613, "#b4b4b4")
rect(94, 611, 993, 614, "#cfcfcf")
rect(989, 798, 993, 1315, "#b4b4b4")
rect(96, 1313, 993, 1316, "#cfcfcf")
# navigator widgets
for dy, dx in [(0, 0), (706, 1)]:
    shapes.append(dict(type="path", xref="paper", yref="paper", path=rounded(988, 27 + dy, 1038 - dx, 72 + dy),
                       fillcolor="#e6e6e6", line=dict(color="#a3a3a3", width=2), layer="below"))
    rect(990, 58 + dy, 1036 - dx, 71 + dy, "#b9b9b9")

fig.update_layout(
    width=W, height=H, autosize=False, showlegend=False,
    margin=dict(l=0, r=0, t=0, b=0, pad=0, autoexpand=False),
    paper_bgcolor="#ffffff", plot_bgcolor="#ffffff",
    xaxis=xax(x1r, d1x, "y"), yaxis=yax(y1r, d1y, "x"),
    xaxis2=xax(x2r, d2x, "y2"), yaxis2=yax(y2r, d2y, "x2"),
    xaxis3=top_ax(x1r, "x", "y3"), yaxis3=right_ax(y1r, "y", "x3"),
    xaxis4=top_ax(x2r, "x2", "y4"), yaxis4=right_ax(y2r, "y2", "x4"),
    annotations=annotations, shapes=shapes, font=dict(family="DejaVu Sans"),
)

fig.write_html("out.html", config={"displayModeBar": False},
               post_script="document.body.style.margin='0';document.body.style.overflow='hidden';")
